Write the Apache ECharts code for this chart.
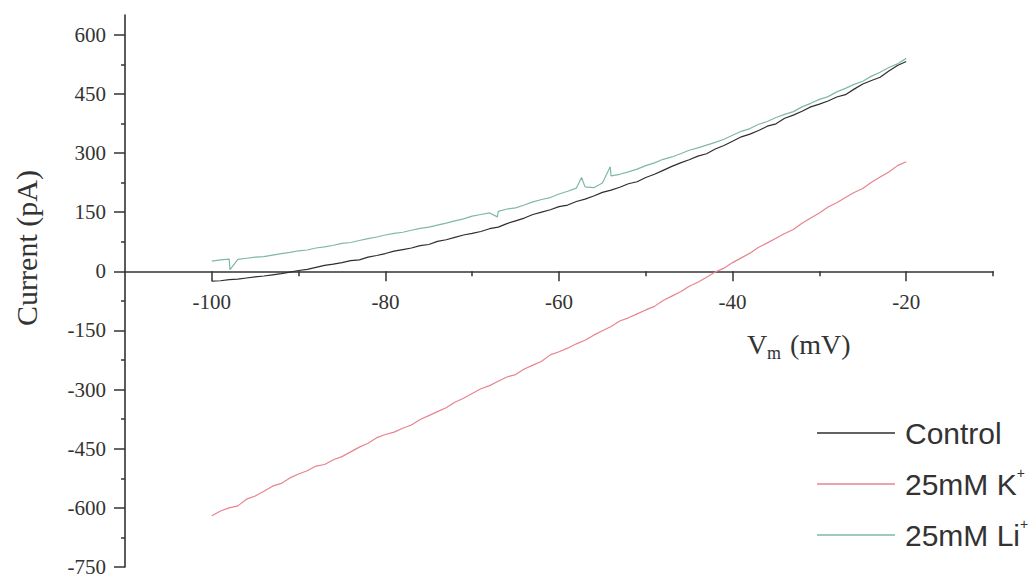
<!DOCTYPE html>
<html>
<head>
<meta charset="utf-8">
<script src="https://cdn.jsdelivr.net/npm/echarts@6/dist/echarts.min.js"></script>
<style>html,body{margin:0;padding:0;background:#fff}#c{width:1029px;height:579px}</style>
</head>
<body>
<div id="c"></div>
<script>
// Membrane potential (mV)
const vm = [-100,-99,-98,-97,-96,-95,-94,-93,-92,-91,-90,-89,-88,-87,-86,-85,-84,-83,-82,-81,
  -80,-79,-78,-77,-76,-75,-74,-73,-72,-71,-70,-69,-68,-67,-66,-65,-64,-63,-62,-61,
  -60,-59,-58,-57,-56,-55,-54,-53,-52,-51,-50,-49,-48,-47,-46,-45,-44,-43,-42,-41,
  -40,-39,-38,-37,-36,-35,-34,-33,-32,-31,-30,-29,-28,-27,-26,-25,-24,-23,-22,-21,-20];
// Current (pA)
const control = [-25,-24,-21,-20,-17,-14,-12,-9,-6,-2,2,5,10,15,18,22,27,29,36,40,
  45,51,55,59,65,68,76,80,86,92,96,101,108,112,121,128,135,144,150,156,
  164,168,177,183,191,200,206,213,222,227,238,246,256,266,275,283,292,298,310,319,
  330,341,348,357,368,374,388,396,406,417,424,432,442,448,462,475,484,492,508,522,532];
const potassium = [-620,-608,-600,-595,-578,-570,-558,-545,-538,-524,-514,-506,-494,-490,-478,-470,-458,-446,-436,-422,
  -414,-408,-398,-390,-376,-366,-356,-346,-332,-322,-310,-298,-290,-279,-268,-262,-248,-238,-228,-212,
  -204,-195,-184,-175,-162,-151,-140,-126,-118,-108,-98,-89,-74,-63,-52,-38,-28,-15,-2,8,
  22,34,46,61,72,84,96,106,122,135,148,163,174,187,200,210,226,239,252,268,278];
const lithium = [26,29,31,30,33,36,37,41,45,48,52,54,59,62,66,71,73,78,83,87,
  92,96,99,104,109,112,117,122,128,133,140,144,148,152,158,161,168,176,182,187,
  196,203,211,214,212,224,242,246,252,259,268,275,284,290,298,307,313,320,327,335,
  345,355,362,373,380,390,398,405,417,426,436,443,455,464,474,482,495,505,517,526,540];
// brief spikes in the Li+ trace
const liSpikeV = [-97.9, -67.1, -57.4, -54.1];
const liSpikeI = [4, 138, 238, 265];

const yTicks = [-750,-600,-450,-300,-150,0,150,300,450,600];
const yMinor = [-675,-525,-375,-225,-75,75,225,375,525];
const xTicks = [-100,-80,-60,-40,-20];
const xMinor = [-90,-70,-50,-30,-10];

const pairs = (xs, ys) => xs.map((x, i) => [x, ys[i]]);
const liData = pairs(vm, lithium).concat(pairs(liSpikeV, liSpikeI)).sort((a, b) => a[0] - b[0]);

const axisColor = '#333';
const serif = 'Liberation Serif';
const sans = 'Liberation Sans';

const Y_MIN = -750, Y_MAX = 650, GRID_TOP = 15, GRID_BOTTOM = 12, H = 579;
const gridH = H - GRID_TOP - GRID_BOTTOM;
// move the x axis from the grid bottom up to the y = 0 line
const zeroOffset = -gridH * (0 - Y_MIN) / (Y_MAX - Y_MIN);

const tickLabel = {
  color: axisColor, fontFamily: serif, fontSize: 21,
  formatter: v => '{s|' + v + '}',
  rich: {s: {fontFamily: serif, fontSize: 21, color: axisColor}}
};

const chart = echarts.init(document.getElementById('c'), null, {renderer: 'svg'});
chart.setOption({
  animation: false,
  backgroundColor: '#fff',
  textStyle: {fontFamily: serif},
  grid: {left: 125, right: 36, top: GRID_TOP, bottom: GRID_BOTTOM, containLabel: false, outerBoundsMode: 'none'},
  xAxis: [
    {type: 'value', min: -110, max: -10, position: 'bottom', offset: zeroOffset,
     axisLine: {onZero: false, lineStyle: {color: axisColor, width: 1.6}},
     axisTick: {customValues: xTicks, length: 10, lineStyle: {color: axisColor, width: 1.5}},
     axisLabel: Object.assign({customValues: xTicks, margin: 20}, tickLabel),
     splitLine: {show: false}},
    {type: 'value', min: -110, max: -10, position: 'bottom', offset: zeroOffset,
     axisLine: {show: false, onZero: false},
     axisTick: {customValues: xMinor, length: 5, lineStyle: {color: axisColor, width: 1.5}},
     axisLabel: {show: false},
     splitLine: {show: false}}
  ],
  yAxis: [
    {type: 'value', min: Y_MIN, max: Y_MAX, position: 'left',
     axisLine: {show: true, onZero: false, lineStyle: {color: axisColor, width: 1.6}},
     axisTick: {customValues: yTicks, length: 11, lineStyle: {color: axisColor, width: 1.5}},
     axisLabel: Object.assign({customValues: yTicks, margin: 19}, tickLabel),
     splitLine: {show: false}},
    {type: 'value', min: Y_MIN, max: Y_MAX, position: 'left',
     axisLine: {show: false, onZero: false},
     axisTick: {customValues: yMinor, length: 4, lineStyle: {color: axisColor, width: 1.5}},
     axisLabel: {show: false},
     splitLine: {show: false}}
  ],
  legend: {
    orient: 'vertical', left: 812, top: 410, itemWidth: 78, itemHeight: 1.5, itemGap: 15,
    icon: 'rect',
    data: ['Control', '25mM K+', '25mM Li+'],
    formatter: n => n.replace('+', '{sup|+}'),
    textStyle: {
      fontFamily: sans, fontSize: 30, color: '#333',
      lineHeight: 36, padding: [0, 0, 0, 5],
      rich: {sup: {fontFamily: sans, fontSize: 14, lineHeight: 6, verticalAlign: 'top', color: '#333'}}
    }
  },
  series: [
    {name: '25mM Li+', type: 'line', data: liData, symbol: 'none', lineStyle: {color: '#7fb9a3', width: 1.2}, itemStyle: {color: '#7fb9a3'}},
    {name: '25mM K+', type: 'line', data: pairs(vm, potassium), symbol: 'none', lineStyle: {color: '#e6848f', width: 1.2}, itemStyle: {color: '#e6848f'}},
    {name: 'Control', type: 'line', data: pairs(vm, control), symbol: 'none', lineStyle: {color: '#2e2e2e', width: 1.2}, itemStyle: {color: '#2e2e2e'}}
  ],
  graphic: [
    {type: 'text', x: 26, y: 248, rotation: Math.PI / 2,
     style: {text: 'Current (pA)', fill: '#333', font: "30px 'Liberation Serif', serif", textAlign: 'center', textVerticalAlign: 'middle'}},
    {type: 'text', x: 747, y: 344,
     style: {text: 'V', fill: '#333', font: "28px 'Liberation Serif', serif", textAlign: 'left', textVerticalAlign: 'middle'}},
    {type: 'text', x: 767, y: 353,
     style: {text: 'm', fill: '#333', font: "18px 'Liberation Serif', serif", textAlign: 'left', textVerticalAlign: 'middle'}},
    {type: 'text', x: 790, y: 344,
     style: {text: '(mV)', fill: '#333', font: "28px 'Liberation Serif', serif", textAlign: 'left', textVerticalAlign: 'middle'}}
  ]
});
</script>
</body>
</html>
